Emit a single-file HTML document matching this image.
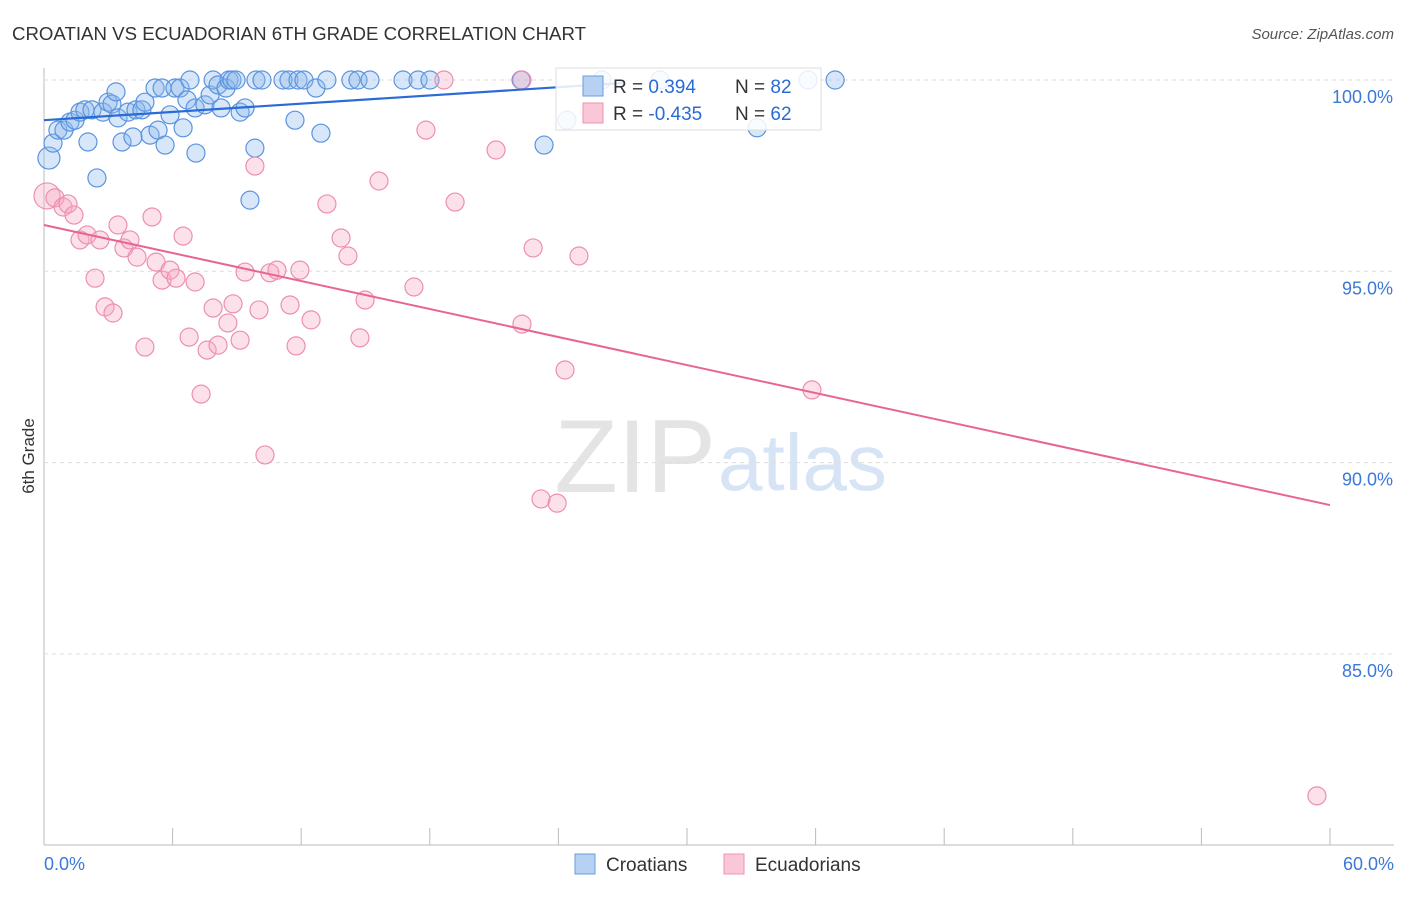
<!DOCTYPE html>
<html><head><meta charset="utf-8"><style>
body{margin:0;background:#fff;font-family:"Liberation Sans",sans-serif}
svg text{font-family:"Liberation Sans",sans-serif}
</style></head><body>
<svg id="c" width="1406" height="892">
<text x="12" y="40" font-size="18" fill="#333" textLength="574" lengthAdjust="spacingAndGlyphs">CROATIAN VS ECUADORIAN 6TH GRADE CORRELATION CHART</text>
<text x="1394" y="39" font-size="15" fill="#555" font-style="italic" text-anchor="end">Source: ZipAtlas.com</text>
<text x="34" y="456" font-size="17" fill="#333" transform="rotate(-90 34 456)" text-anchor="middle">6th Grade</text>
<text x="716" y="492" font-size="104" fill="#e4e4e4" font-family="Liberation Serif" text-anchor="end">ZIP</text>
<text x="718" y="490" font-size="80" fill="#d6e4f5">atlas</text>
<g id="grid"></g><g id="pts"></g><g id="trend"></g>
<g>
<rect x="556" y="68" width="265" height="62" fill="rgba(255,255,255,0.85)" stroke="#ddd"/>
<rect x="583" y="76" width="20" height="20" fill="#b7d1f2" stroke="#6b9de0"/>
<rect x="583" y="103" width="20" height="20" fill="#f9c7d6" stroke="#ee93b1"/>
<text x="613" y="93" font-size="19" fill="#333">R = <tspan fill="#2a6bd6"> 0.394</tspan><tspan x="735">N = </tspan><tspan fill="#2a6bd6">82</tspan></text>
<text x="613" y="120" font-size="19" fill="#333">R = <tspan fill="#2a6bd6">-0.435</tspan><tspan x="735">N = </tspan><tspan fill="#2a6bd6">62</tspan></text>
</g>
<g>
<rect x="575" y="854" width="20" height="20" fill="#b7d1f2" stroke="#6b9de0"/>
<text x="606" y="871" font-size="19" fill="#333">Croatians</text>
<rect x="724" y="854" width="20" height="20" fill="#f9c7d6" stroke="#ee93b1"/>
<text x="755" y="871" font-size="19" fill="#333">Ecuadorians</text>
</g>
</svg>
<script>
const yTicks=[100,95,90,85];
const yTickLabels=["100.0%","95.0%","90.0%","85.0%"];
const xTicks=[0,6,12,18,24,30,36,42,48,54,60];
const croX=[0.23,0.42,0.65,0.93,1.21,1.45,1.68,1.91,2.05,2.24,2.47,2.75,2.99,3.17,3.36,3.45,3.64,3.92,4.15,4.29,4.57,4.71,4.95,5.18,5.32,5.51,5.65,5.88,6.11,6.35,6.49,6.67,6.81,7.05,7.09,7.51,7.75,7.89,8.12,8.26,8.49,8.63,8.77,8.96,9.15,9.38,9.61,9.84,9.89,10.17,11.15,11.43,11.71,11.85,12.13,12.69,12.92,13.20,14.32,14.65,15.21,16.75,17.45,18.01,22.26,23.33,24.40,26.03,28.74,33.27,35.65,36.91];
const croY=[97.96,98.35,98.69,98.69,98.90,98.95,99.16,99.22,98.38,99.22,97.44,99.16,99.42,99.37,99.69,99.01,98.38,99.16,98.51,99.22,99.22,99.42,98.56,99.79,98.69,99.79,98.30,99.09,99.79,99.79,98.75,99.48,100,99.27,98.09,99.35,99.61,100,99.87,99.27,99.79,100,100,100,99.16,99.27,96.86,98.22,100,100,100,100,98.95,100,100,99.79,98.61,100,100,100,100,100,100,100,100,98.30,98.95,100,100,98.75,100,100];
const ecuX=[0.14,0.51,0.89,1.12,1.40,1.68,2.01,2.38,2.61,2.85,3.22,3.45,3.73,4.01,4.34,4.71,5.04,5.23,5.51,5.88,6.16,6.49,6.77,7.05,7.33,7.61,7.89,8.12,8.58,8.82,9.15,9.38,9.84,10.03,10.31,10.54,10.87,11.48,11.76,11.94,12.46,13.20,13.86,14.18,14.74,14.98,15.63,17.26,17.82,18.66,19.18,21.09,22.30,22.82,23.19,23.94,24.31,24.96,35.83,59.39,22.30];
const ecuY=[96.97,96.92,96.68,96.76,96.47,95.82,95.95,94.82,95.82,94.07,93.91,96.21,95.61,95.82,95.37,93.02,96.42,95.24,94.77,95.03,94.82,95.92,93.28,94.72,91.79,92.94,94.04,93.07,93.65,94.15,93.20,94.98,97.75,93.99,90.20,94.96,95.03,94.12,93.05,95.03,93.73,96.76,95.87,95.40,93.26,94.25,97.36,94.59,98.69,100,96.81,98.17,93.62,95.61,89.05,88.94,92.42,95.40,91.90,81.29,100];
const croTrend=[[0,98.95],[27,99.92]];
const ecuTrend=[[0,96.21],[60,88.89]];
const NS="http://www.w3.org/2000/svg";
const X=v=>44+v*(1286/60), Y=v=>80+(100-v)*38.26;
function mk(t,a,p){const e=document.createElementNS(NS,t);for(const k in a)e.setAttribute(k,a[k]);p.appendChild(e);return e;}
const g=document.getElementById('grid');
mk('line',{x1:44,x2:44,y1:68,y2:845,stroke:'#bbb'},g);
mk('line',{x1:44,x2:1394,y1:845,y2:845,stroke:'#bbb'},g);
yTicks.forEach((t,i)=>{
 const l=mk('line',{x1:44,x2:1394,y1:Y(t),y2:Y(t),stroke:'#ddd','stroke-dasharray':'4 4'},g);
 
 
 const tx=mk('text',{x:1393,y:Y(t)+23,'font-size':18,fill:'#3b78d8','text-anchor':'end'},g);tx.textContent=yTickLabels[i];
 
 
});
xTicks.forEach(t=>{
 const l=mk('line',{x1:X(t),x2:X(t),y1:828,y2:845,stroke:'#bbb'},g);
 
 
});
[[0,"0.0%","start",44],[60,"60.0%","end",1394]].forEach(a=>{
 const tx=mk('text',{x:a[3],y:870,'font-size':18,fill:'#3b78d8','text-anchor':a[2]},g);tx.textContent=a[1];
 
 
});
const p=document.getElementById('pts');
croX.forEach((x,i)=>{
 const c=mk('circle',{cx:X(x),cy:Y(croY[i]),r:i==0?11:9,fill:'rgba(140,182,236,0.35)',stroke:'#5a94e0','stroke-width':1.2},p);
 
 
});
ecuX.forEach((x,i)=>{
 const c=mk('circle',{cx:X(x),cy:Y(ecuY[i]),r:i==0?13:9,fill:'rgba(246,170,196,0.35)',stroke:'#ec8fb0','stroke-width':1.2},p);
 
 
});
const tr=document.getElementById('trend');
const l1=mk('line',{x1:X(croTrend[0][0]),y1:Y(croTrend[0][1]),x2:X(croTrend[1][0]),y2:Y(croTrend[1][1]),stroke:'#2a6bd6','stroke-width':2.2},tr);


const l2=mk('line',{x1:X(ecuTrend[0][0]),y1:Y(ecuTrend[0][1]),x2:X(ecuTrend[1][0]),y2:Y(ecuTrend[1][1]),stroke:'#e86495','stroke-width':2},tr);


</script>
</body></html>
